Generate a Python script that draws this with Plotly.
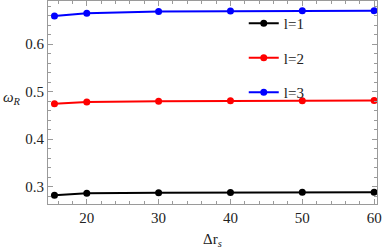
import plotly.graph_objects as go

dr = [15.5, 20, 30, 40, 50, 60]
l1 = [0.2820, 0.2860, 0.2875, 0.2880, 0.2882, 0.2883]
l2 = [0.4747, 0.4782, 0.4800, 0.4808, 0.4811, 0.4813]
l3 = [0.6596, 0.6652, 0.6690, 0.6700, 0.6703, 0.6705]
names = ["l=1", "l=2", "l=3"]
colors = ["#000000", "#ff0000", "#0000ff"]

fig = go.Figure()
for i, (ys, nm, c) in enumerate(zip([l1, l2, l3], names, colors)):
    fig.add_trace(go.Scatter(x=dr, y=ys, name=nm, mode="lines+markers",
                             line=dict(color=c, width=2),
                             marker=dict(color=c, size=7),
                             legendgroup=str(i)))

FAM = "Liberation Serif, Times New Roman, serif"
font = dict(family=FAM, size=15, color="#222222")
axcommon = dict(showline=True, linecolor="#9a9a9a", linewidth=1, mirror="allticks",
                ticks="inside", ticklen=5, tickcolor="#9a9a9a", showgrid=False,
                zeroline=False, ticklabeloverflow="allow", automargin=False,
                tickfont=dict(family=FAM, size=15, color="#222222"))
fig.update_xaxes(range=[14.6, 60.4], tickvals=[20, 30, 40, 50, 60],
                 minor=dict(dtick=2, ticks="inside", ticklen=3, tickcolor="#9a9a9a", tick0=0),
                 **axcommon)
fig.update_yaxes(range=[0.2636, 0.691], tickvals=[0.3, 0.4, 0.5, 0.6], tickformat=".1f",
                 minor=dict(dtick=0.02, ticks="inside", ticklen=3, tickcolor="#9a9a9a", tick0=0),
                 **axcommon)

fig.add_annotation(text="<i>ω</i><sub><i>R</i></sub>", xref="paper", yref="paper", x=-0.11, y=0.52,
                   showarrow=False, font=font, xanchor="center", yanchor="middle")
fig.add_annotation(text="Δr<sub><i>s</i></sub>", xref="paper", yref="paper", x=0.5, y=-0.125,
                   showarrow=False, font=font, xanchor="center", yanchor="top")

fig.update_layout(
    width=382, height=251,
    margin=dict(l=48, r=5, t=1, b=47),
    plot_bgcolor="white", paper_bgcolor="white",
    font=font,
    showlegend=True,
    legend=dict(x=0.595, y=0.97, xanchor="left", yanchor="top", bgcolor="rgba(0,0,0,0)",
                tracegroupgap=12, itemwidth=30, font=font),
)
fig.write_html("out.html", config={"displayModeBar": False},
               post_script="document.body.style.margin='0px';")
